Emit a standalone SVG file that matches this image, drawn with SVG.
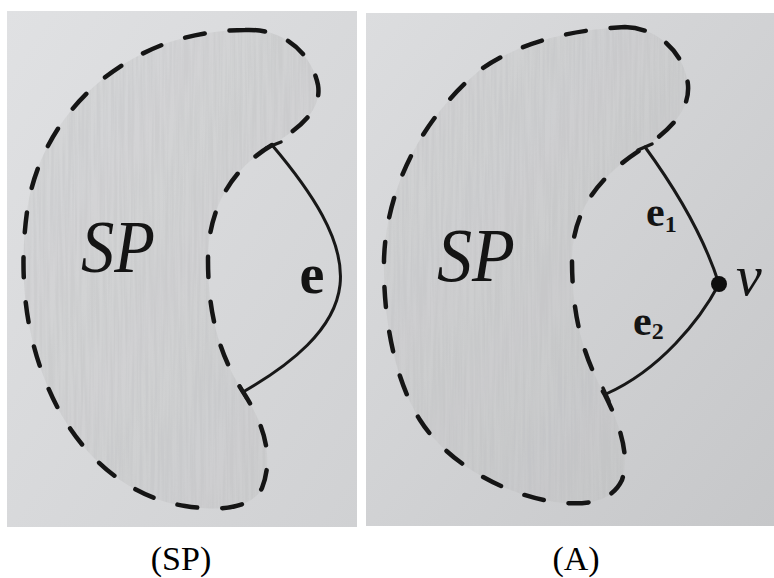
<svg xmlns="http://www.w3.org/2000/svg" width="774" height="578" viewBox="0 0 774 578">
  <defs>
    <linearGradient id="paperL" x1="0" y1="0" x2="1" y2="1">
      <stop offset="0" stop-color="#e0e1e3"/>
      <stop offset="1" stop-color="#d0d1d3"/>
    </linearGradient>
    <linearGradient id="paperR" x1="0" y1="0" x2="1" y2="1">
      <stop offset="0" stop-color="#dcdddf"/>
      <stop offset="1" stop-color="#c6c7c9"/>
    </linearGradient>
    <filter id="pencil" x="0" y="0" width="1" height="1">
      <feTurbulence type="fractalNoise" baseFrequency="0.35 0.012" numOctaves="2" seed="5" result="n"/>
      <feColorMatrix in="n" type="matrix" values="0 0 0 0 0.45  0 0 0 0 0.46  0 0 0 0 0.47  0 0 0 -3 2.0" result="c"/>
      <feComposite in="c" in2="SourceGraphic" operator="in"/>
    </filter>
  </defs>
  <style>
    .blob { fill: #bdbec0; fill-opacity: 0.28; stroke: none; }
    .streak { fill: #000; }
    .dash { fill: none; stroke: #151515; stroke-width: 4.5; stroke-dasharray: 20 25; stroke-linecap: round; }
    .edge { fill: none; stroke: #181818; stroke-width: 3; stroke-linecap: round; }
    .tick { stroke: #181818; stroke-width: 3.5; stroke-linecap: round; }
    .hand { font-family: "Liberation Serif", "DejaVu Serif", serif; fill: #141414; }
    .cap { font-family: "Liberation Serif", "Times New Roman", serif; font-size: 34px; fill: #000; text-anchor: middle; }
  </style>
  <rect width="774" height="578" fill="#ffffff"/>

  <g id="panel-sp">
    <rect x="7" y="11" width="350" height="516" fill="url(#paperL)"/>
    <path class="blob" d="M245,30 C285,28 312,55 318,85 C322,110 300,128 272,145 C230,170 208,210 208,260 C208,320 222,360 245,395 C262,422 275,455 262,488 C250,512 210,510 185,506 C120,496 70,445 45,380 C25,330 18,270 28,205 C40,135 90,70 170,42 C195,34 220,30 245,30 Z"/>
    <g opacity="0.18"><path class="streak" filter="url(#pencil)" d="M245,30 C285,28 312,55 318,85 C322,110 300,128 272,145 C230,170 208,210 208,260 C208,320 222,360 245,395 C262,422 275,455 262,488 C250,512 210,510 185,506 C120,496 70,445 45,380 C25,330 18,270 28,205 C40,135 90,70 170,42 C195,34 220,30 245,30 Z"/></g>
    <path class="dash" d="M245,30 C285,28 312,55 318,85 C322,110 300,128 272,145 C230,170 208,210 208,260 C208,320 222,360 245,395 C262,422 275,455 262,488 C250,512 210,510 185,506 C120,496 70,445 45,380 C25,330 18,270 28,205 C40,135 90,70 170,42 C195,34 220,30 245,30 Z"/>
    <text class="hand" x="118" y="272" font-size="74" font-style="italic" text-anchor="middle" textLength="74" lengthAdjust="spacingAndGlyphs">SP</text>
  </g>

  <g id="panel-a">
    <rect x="366" y="13" width="408" height="513" fill="url(#paperR)"/>
    <path class="blob" d="M625,27 C660,28 685,55 688,85 C690,110 670,130 645,147 C600,175 572,210 572,260 C572,320 585,360 605,395 C620,425 630,455 622,480 C610,505 580,505 555,502 C500,494 445,460 420,420 C395,380 383,320 384,260 C386,190 420,120 480,70 C520,42 570,30 625,27 Z"/>
    <g opacity="0.18"><path class="streak" filter="url(#pencil)" d="M625,27 C660,28 685,55 688,85 C690,110 670,130 645,147 C600,175 572,210 572,260 C572,320 585,360 605,395 C620,425 630,455 622,480 C610,505 580,505 555,502 C500,494 445,460 420,420 C395,380 383,320 384,260 C386,190 420,120 480,70 C520,42 570,30 625,27 Z"/></g>
    <path class="dash" d="M625,27 C660,28 685,55 688,85 C690,110 670,130 645,147 C600,175 572,210 572,260 C572,320 585,360 605,395 C620,425 630,455 622,480 C610,505 580,505 555,502 C500,494 445,460 420,420 C395,380 383,320 384,260 C386,190 420,120 480,70 C520,42 570,30 625,27 Z"/>
    <text class="hand" x="476" y="281" font-size="76" font-style="italic" text-anchor="middle" textLength="78" lengthAdjust="spacingAndGlyphs">SP</text>
  </g>

  <g id="connectors">
    <path class="edge" d="M272,145 C310,190 345,240 340,285 C335,330 290,365 243,392"/>
    <line class="tick" x1="266" y1="148" x2="281" y2="142"/>
    <line class="tick" x1="239.5" y1="386" x2="246.5" y2="398"/>
    <path class="edge" stroke-width="2.6" d="M645,147 C680,195 705,240 719,284"/>
    <path class="edge" stroke-width="2.6" d="M719,284 C700,320 660,370 606,394"/>
    <line class="tick" x1="638" y1="150" x2="652" y2="144"/>
    <line class="tick" x1="603" y1="388" x2="609" y2="401"/>
  </g>

  <g id="edge-labels">
    <text class="hand" x="312" y="293" font-size="56" font-weight="bold" text-anchor="middle">e</text>
    <text class="hand" x="646" y="226" font-size="42" font-weight="bold">e<tspan font-size="24" dy="6">1</tspan></text>
    <text class="hand" x="633" y="335" font-size="42" font-weight="bold">e<tspan font-size="24" dy="4">2</tspan></text>
  </g>

  <g id="vertex-v">
    <circle cx="719" cy="284" r="8" fill="#0e0e0e"/>
    <text class="hand" x="736" y="295" font-size="58" font-style="italic">v</text>
  </g>

  <g id="captions">
    <text class="cap" x="181" y="570">(SP)</text>
    <text class="cap" x="576" y="570">(A)</text>
  </g>
</svg>
